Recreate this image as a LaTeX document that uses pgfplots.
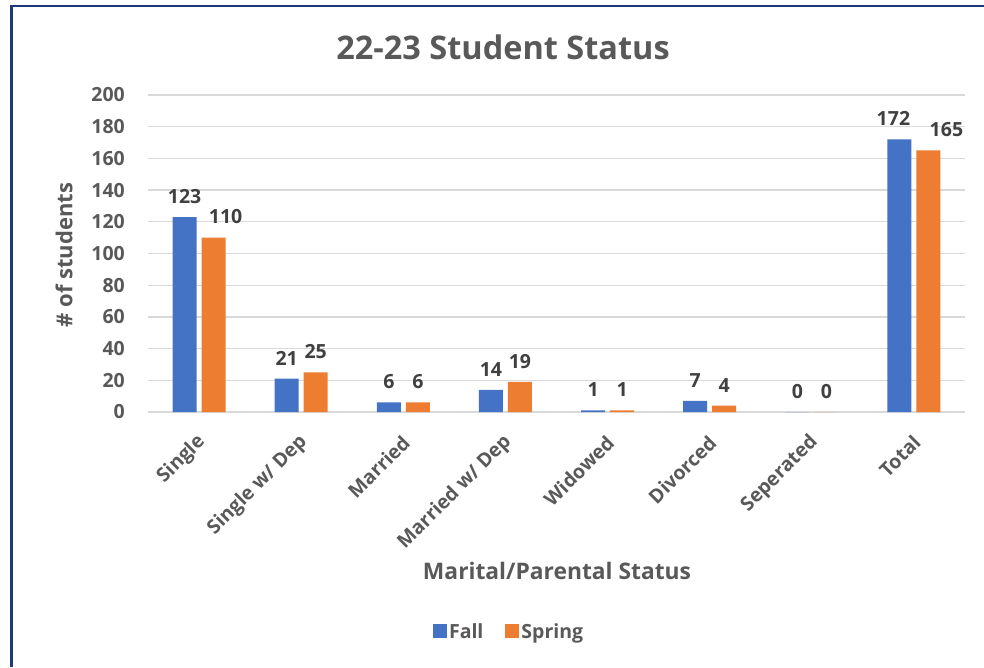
\documentclass[border=0pt]{standalone}
\usepackage{pgfplots}
\pgfplotsset{compat=1.18}
\usepackage{pgfplotstable}
\usepackage{fontspec}
\setmainfont{Open Sans}
\definecolor{fallblue}{HTML}{4472C4}
\definecolor{springorange}{HTML}{ED7D31}
\definecolor{txtgray}{HTML}{595959}
\definecolor{lblgray}{HTML}{404040}
\definecolor{gridgray}{HTML}{D9D9D9}
\definecolor{framenavy}{HTML}{1F3A78}

% x = category index, y = students, dx = label nudge (pt)
\pgfplotstableread{
x y   dx
0 123 0
1 21  0
2 6   0
3 14  0
4 1   0
5 7   0
6 0   0
7 172 -6
}\falldata
\pgfplotstableread{
x y   dx
0 110 12
1 25  0
2 6   0
3 19  0
4 1   0
5 4   0
6 0   0
7 165 18
}\springdata

\begin{document}
\begin{tikzpicture}[x=1pt,y=1pt]
\useasboundingbox (0,0) rectangle (984,667);
\fill[white] (0,0) rectangle (984,667);
\draw[framenavy, line width=2.5pt] (11.5,0) -- (11.5,661) -- (984,661);

\node[font=\bfseries\fontsize{32.5}{38}\selectfont, text=txtgray] at (503,620) {22-23 Student Status};

\begin{axis}[
    at={(148pt,255pt)}, anchor=south west,
    scale only axis,
    width=817pt, height=317pt,
    ybar=5pt, bar width=24pt,
    xmin=-0.5, xmax=7.5,
    ymin=0, ymax=200,
    ytick={0,20,...,200},
    xtick={0,...,7},
    xticklabels={Single, Single w/ Dep, Married, Married w/ Dep, Widowed, Divorced, Seperated, Total},
    xticklabel style={inner sep=0pt, xshift=3pt, yshift=-27pt, rotate=45, anchor=east},
    axis x line*=bottom, axis y line*=left,
    y axis line style={draw=none},
    x axis line style={gridgray, line width=2pt},
    major tick length=0pt,
    ymajorgrids, grid style={gridgray, line width=1.3pt},
    yticklabel style={inner sep=0pt, anchor=east, xshift=-23pt},
    ticklabel style={font=\bfseries\fontsize{19.5}{22}\selectfont, text=txtgray},
    /pgf/number format/assume math mode=true,
    nodes near coords,
    visualization depends on={\thisrow{dx}\as\labeldx},
    every node near coord/.append style={font=\bfseries\fontsize{19.5}{22}\selectfont, text=lblgray, yshift=10pt, xshift=\labeldx pt},
    legend style={at={(0.442,-0.694)}, anchor=center, draw=none, legend columns=2,
        font=\bfseries\fontsize{19.5}{22}\selectfont, text=txtgray,
        /tikz/every even column/.append style={column sep=20pt}},
    legend image code/.code={\fill[#1] (-10pt,-6pt) rectangle (4pt,8pt);},
]
\addplot[fill=fallblue, draw=none] table[x=x, y=y] {\falldata};
\addplot[fill=springorange, draw=none] table[x=x, y=y] {\springdata};
\legend{Fall, Spring}
\end{axis}
\node[rotate=90, font=\bfseries\fontsize{22}{26}\selectfont, text=txtgray] at (64,412) {\# of students};
\node[font=\bfseries\fontsize{22.8}{26}\selectfont, text=txtgray] at (557,96) {Marital/Parental Status};
\end{tikzpicture}
\end{document}
